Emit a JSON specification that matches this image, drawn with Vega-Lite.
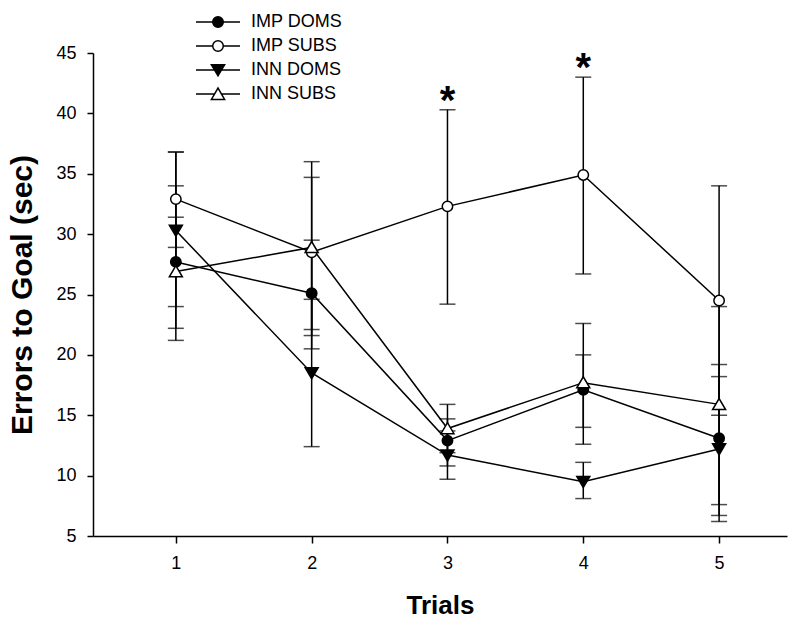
{
  "$schema": "https://vega.github.io/schema/vega-lite/v6.json",
  "autosize": "none",
  "width": 694,
  "height": 483,
  "padding": {"left": 93, "top": 53, "right": 13, "bottom": 94},
  "background": "white",
  "config": {
    "view": {"stroke": null},
    "font": "Liberation Sans",
    "axis": {
      "grid": false,
      "domainColor": "black",
      "domainWidth": 1.5,
      "tickColor": "black",
      "tickWidth": 1.5,
      "labelColor": "black",
      "labelFont": "Liberation Sans",
      "labelFontSize": 18,
      "titleColor": "black",
      "titleFont": "Liberation Sans",
      "titleFontWeight": "bold"
    }
  },
  "data": {
    "values": [
      {"trial": 1, "series": "IMP DOMS", "mean": 27.7, "lo": 21.2, "hi": 34.0},
      {"trial": 2, "series": "IMP DOMS", "mean": 25.1, "lo": 20.5, "hi": 29.5},
      {"trial": 3, "series": "IMP DOMS", "mean": 12.9, "lo": 10.8, "hi": 14.7},
      {"trial": 4, "series": "IMP DOMS", "mean": 17.1, "lo": 14.0, "hi": 20.0},
      {"trial": 5, "series": "IMP DOMS", "mean": 13.1, "lo": 6.7, "hi": 19.2},
      {"trial": 1, "series": "IMP SUBS", "mean": 32.9, "lo": 28.9, "hi": 36.8},
      {"trial": 2, "series": "IMP SUBS", "mean": 28.5, "lo": 21.6, "hi": 36.0},
      {"trial": 3, "series": "IMP SUBS", "mean": 32.3, "lo": 24.2, "hi": 40.3},
      {"trial": 4, "series": "IMP SUBS", "mean": 34.9, "lo": 26.7, "hi": 43.0},
      {"trial": 5, "series": "IMP SUBS", "mean": 24.5, "lo": 15.0, "hi": 34.0},
      {"trial": 1, "series": "INN DOMS", "mean": 30.3, "lo": 24.0, "hi": 36.8},
      {"trial": 2, "series": "INN DOMS", "mean": 18.5, "lo": 12.4, "hi": 24.6},
      {"trial": 3, "series": "INN DOMS", "mean": 11.7, "lo": 9.7, "hi": 13.7},
      {"trial": 4, "series": "INN DOMS", "mean": 9.5, "lo": 8.1, "hi": 11.1},
      {"trial": 5, "series": "INN DOMS", "mean": 12.2, "lo": 6.2, "hi": 18.2},
      {"trial": 1, "series": "INN SUBS", "mean": 26.9, "lo": 22.2, "hi": 31.4},
      {"trial": 2, "series": "INN SUBS", "mean": 28.9, "lo": 22.1, "hi": 34.7},
      {"trial": 3, "series": "INN SUBS", "mean": 13.9, "lo": 11.9, "hi": 15.9},
      {"trial": 4, "series": "INN SUBS", "mean": 17.7, "lo": 12.6, "hi": 22.6},
      {"trial": 5, "series": "INN SUBS", "mean": 15.9, "lo": 7.6, "hi": 24.0}
    ]
  },
  "encoding": {
    "x": {
      "field": "trial",
      "type": "quantitative",
      "scale": {"domain": [0.39, 5.5], "nice": false, "zero": false},
      "axis": {
        "values": [1, 2, 3, 4, 5],
        "title": "Trials",
        "titleFontSize": 26,
        "titlePadding": 20,
        "tickSize": 7,
        "labelPadding": 11,
        "labelFontSize": 18
      }
    }
  },
  "layer": [
    {
      "mark": {"type": "line", "color": "black", "strokeWidth": 1.5},
      "encoding": {
        "y": {
          "field": "mean",
          "type": "quantitative",
          "title": "Errors to Goal (sec)",
          "scale": {"domain": [5, 45], "nice": false, "zero": false},
          "axis": {
            "values": [5, 10, 15, 20, 25, 30, 35, 40, 45],
            "title": "Errors to Goal (sec)",
            "titleFontSize": 30,
            "titlePadding": 18,
            "tickSize": 6,
            "labelPadding": 11,
            "labelFontSize": 18
          }
        },
        "detail": {"field": "series"},
        "order": {"field": "trial"}
      }
    },
    {
      "mark": {
        "type": "errorbar",
        "ticks": {"size": 16, "thickness": 1.5, "color": "black"},
        "rule": {"strokeWidth": 1.5, "color": "black"}
      },
      "encoding": {
        "y": {"field": "lo", "type": "quantitative", "title": "Errors to Goal (sec)"},
        "y2": {"field": "hi"}
      }
    },
    {
      "mark": {"type": "point", "filled": true, "stroke": "black", "strokeWidth": 1.5, "size": 169, "opacity": 1},
      "encoding": {
        "y": {"field": "mean", "type": "quantitative", "title": "Errors to Goal (sec)"},
        "shape": {
          "field": "series",
          "type": "nominal",
          "scale": {
            "domain": ["IMP DOMS", "INN DOMS", "IMP SUBS", "INN SUBS"],
            "range": [
              "M-0.8,0A0.8,0.8 0 1,0 0.8,0A0.8,0.8 0 1,0 -0.8,0Z",
              "M-1,-0.8L1,-0.8L0,0.9Z",
              "M-0.8,0A0.8,0.8 0 1,0 0.8,0A0.8,0.8 0 1,0 -0.8,0Z",
              "M-1,0.8L1,0.8L0,-0.9Z"
            ]
          },
          "legend": null
        },
        "fill": {
          "field": "series",
          "type": "nominal",
          "scale": {
            "domain": ["IMP DOMS", "IMP SUBS", "INN DOMS", "INN SUBS"],
            "range": ["black", "white", "black", "white"]
          },
          "legend": {
            "orient": "none",
            "legendX": 113,
            "legendY": -43,
            "title": null,
            "labelFont": "Liberation Sans",
            "labelFontSize": 18,
            "labelColor": "black",
            "labelOffset": 21,
            "rowPadding": 3,
            "symbolSize": 484,
            "symbolStrokeColor": "black",
            "symbolStrokeWidth": 1.5,
            "symbolOpacity": 1,
            "encode": {
              "symbols": {
                "update": {
                  "shape": {"signal": "datum.value === 'INN DOMS' ? 'M-2,0L2,0M-0.6,-0.48L0.6,-0.48L0,0.52Z' : datum.value === 'INN SUBS' ? 'M-2,0L-0.32,0M0.32,0L2,0M-0.6,0.5L0.6,0.5L0,-0.54Z' : 'M-2,0L-0.48,0M0.48,0L2,0M-0.48,0A0.48,0.48 0 1,0 0.48,0A0.48,0.48 0 1,0 -0.48,0Z'"},
                  "size": {"value": 484},
                  "stroke": {"value": "black"},
                  "strokeWidth": {"value": 1.5}
                }
              }
            }
          }
        }
      }
    },
    {
      "data": {"values": [{"trial": 3, "y": 40.3, "label": "*"}, {"trial": 4, "y": 43.0, "label": "*"}]},
      "mark": {"type": "text", "font": "Liberation Sans", "fontWeight": "bold", "fontSize": 40, "baseline": "alphabetic", "align": "center", "dy": 4, "color": "black"},
      "encoding": {
        "y": {"field": "y", "type": "quantitative"},
        "text": {"field": "label"}
      }
    }
  ]
}
